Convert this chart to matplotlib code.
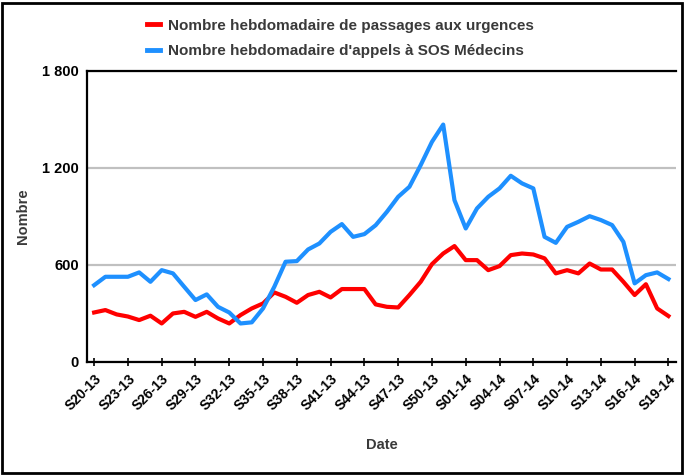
import matplotlib
matplotlib.use("Agg")
import matplotlib.pyplot as plt
from matplotlib.patches import Rectangle
from matplotlib.lines import Line2D

# --- Data ---
WEEKS = [
    "S20-13", "S21-13", "S22-13", "S23-13", "S24-13", "S25-13", "S26-13", "S27-13",
    "S28-13", "S29-13", "S30-13", "S31-13", "S32-13", "S33-13", "S34-13", "S35-13",
    "S36-13", "S37-13", "S38-13", "S39-13", "S40-13", "S41-13", "S42-13", "S43-13",
    "S44-13", "S45-13", "S46-13", "S47-13", "S48-13", "S49-13", "S50-13", "S51-13",
    "S52-13", "S01-14", "S02-14", "S03-14", "S04-14", "S05-14", "S06-14", "S07-14",
    "S08-14", "S09-14", "S10-14", "S11-14", "S12-14", "S13-14", "S14-14", "S15-14",
    "S16-14", "S17-14", "S18-14", "S19-14",
]
TICK_LABELS = WEEKS[::3]

urgences = [
    305, 320, 293, 280, 258, 285, 237, 299, 309, 278, 309, 268, 237,
    289, 330, 361, 429, 402, 365, 413, 433, 398, 450, 450, 450, 355,
    340, 336, 413, 495, 604, 670, 716, 629, 629, 567, 592, 660, 670,
    664, 640, 547, 567, 547, 608, 571, 571, 495, 413, 480, 330, 283,
]
sos_medecins = [
    474, 526, 526, 526, 553, 495, 567, 547, 464, 382, 417, 340, 305,
    237, 244, 330, 464, 619, 623, 695, 732, 804, 852, 773, 790, 845,
    928, 1021, 1083, 1217, 1361, 1468, 1000, 825, 949, 1021, 1073, 1151, 1104,
    1073, 773, 736, 835, 866, 901, 877, 846, 742, 485, 536, 553, 512,
]

RED = "#FF0000"
BLUE = "#1E90FF"
TEXT_GRAY = "#3a3a3a"

plt.rcParams["font.family"] = ["Liberation Sans", "DejaVu Sans"]
plt.rcParams["font.weight"] = "bold"

fig = plt.figure(figsize=(6.88, 4.76), dpi=100)
ax = fig.add_axes([0.127, 0.240, 0.856, 0.611])

x = list(range(len(WEEKS)))
ax.plot(x, urgences, color=RED, linewidth=3, solid_joinstyle="round", zorder=3)
ax.plot(x, sos_medecins, color=BLUE, linewidth=3, solid_joinstyle="round", zorder=3)

ax.set_xlim(-0.6, 51.7)
ax.set_ylim(0, 1800)
ax.set_yticks([0, 600, 1200, 1800])
ax.set_yticklabels(["0", "600", "1 200", "1 800"], fontsize=10.5, fontweight="bold")
ax.set_xticks(x[::3])
ax.set_xticklabels(TICK_LABELS, rotation=45, ha="right", rotation_mode="anchor",
                   fontsize=10, fontweight="bold")

ax.grid(axis="y", color="#c0c0c0", linewidth=1.6)
ax.set_axisbelow(True)
for side in ("top", "left", "bottom"):
    ax.spines[side].set_linewidth(1.6)
    ax.spines[side].set_color("black")
ax.spines["right"].set_visible(False)
ax.tick_params(axis="x", direction="inout", length=6, width=1.2, pad=4)
ax.tick_params(axis="y", length=0, pad=6)

ax.set_ylabel("Nombre", fontsize=10.5, fontweight="bold", color=TEXT_GRAY, labelpad=9)
ax.set_xlabel("Date", fontsize=10.5, fontweight="bold", color=TEXT_GRAY, labelpad=18)

handles = [Line2D([], [], color=RED, linewidth=3.5),
           Line2D([], [], color=BLUE, linewidth=3.5)]
fig.legend(handles,
           ["Nombre hebdomadaire de passages aux urgences",
            "Nombre hebdomadaire d'appels à SOS Médecins"],
           loc="upper left", bbox_to_anchor=(0.193, 0.99), frameon=False,
           handlelength=0.9, handletextpad=0.5, labelspacing=0.75,
           prop={"size": 11, "weight": "bold"}, labelcolor=TEXT_GRAY)

# outer frame around the whole picture
fig.patches.append(Rectangle((0.003, 0.006), 0.988, 0.988, transform=fig.transFigure,
                             fill=False, edgecolor="black", linewidth=2))

fig.savefig("out.png", dpi=100)
